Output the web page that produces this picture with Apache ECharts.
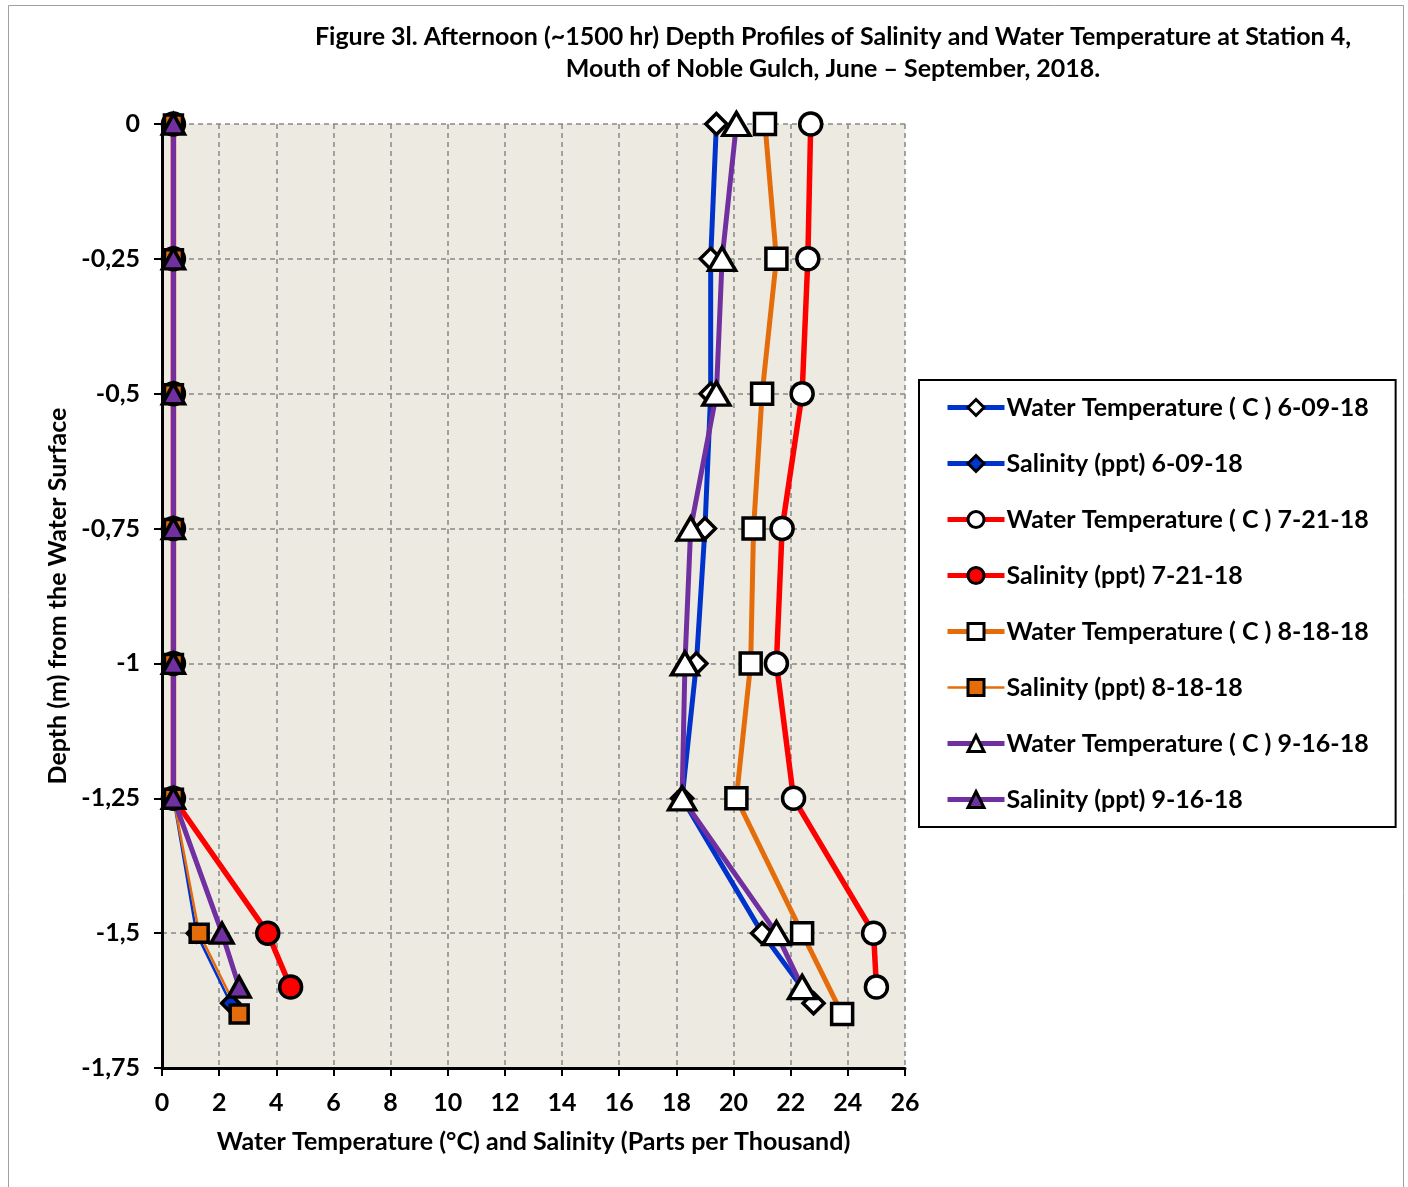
<!DOCTYPE html>
<html><head><meta charset="utf-8">
<script src="https://cdn.jsdelivr.net/npm/echarts@6/dist/echarts.min.js"></script>
<style>html,body{margin:0;padding:0;background:#fff}#c{width:1408px;height:1187px}</style>
</head><body><div id="c"></div>
<script>
// Depths (m) of the profile points, per sampling date
const depths0609 = [0, -0.25, -0.5, -0.75, -1, -1.25, -1.5, -1.63];
const depths0721 = [0, -0.25, -0.5, -0.75, -1, -1.25, -1.5, -1.6];
const depths0818 = [0, -0.25, -0.5, -0.75, -1, -1.25, -1.5, -1.65];
const depths0916 = [0, -0.25, -0.5, -0.75, -1, -1.25, -1.5, -1.6];
// Water temperature (C)
const temp0609 = [19.4, 19.2, 19.2, 19.0, 18.7, 18.2, 21.0, 22.8];
const temp0721 = [22.7, 22.6, 22.4, 21.7, 21.5, 22.1, 24.9, 25.0];
const temp0818 = [21.1, 21.5, 21.0, 20.7, 20.6, 20.1, 22.4, 23.8];
const temp0916 = [20.1, 19.6, 19.4, 18.5, 18.3, 18.2, 21.5, 22.4];
// Salinity (ppt)
const sal0609 = [0.4, 0.4, 0.4, 0.4, 0.4, 0.4, 1.2, 2.4];
const sal0721 = [0.4, 0.4, 0.4, 0.4, 0.4, 0.4, 3.7, 4.5];
const sal0818 = [0.4, 0.4, 0.4, 0.4, 0.4, 0.4, 1.3, 2.7];
const sal0916 = [0.4, 0.4, 0.4, 0.4, 0.4, 0.4, 2.1, 2.7];
const seriesNames = [
  'Water Temperature ( C ) 6-09-18', 'Salinity (ppt) 6-09-18',
  'Water Temperature ( C ) 7-21-18', 'Salinity (ppt) 7-21-18',
  'Water Temperature ( C ) 8-18-18', 'Salinity (ppt) 8-18-18',
  'Water Temperature ( C ) 9-16-18', 'Salinity (ppt) 9-16-18'
];

const pairs = (xs, ys) => xs.map((v, i) => [v, ys[i]]);
const FONT = 'Lato';
const FS = 25;
const C_BLUE = '#0033CC', C_RED = '#FF0000', C_ORANGE = '#E46C0A', C_PURPLE = '#7030A0';

function mk(name, data, color, lw, symbol, size, fill) {
  return {
    name, type: 'line', data, symbol, symbolSize: size,
    lineStyle: { color, width: lw },
    itemStyle: { color: fill, borderColor: '#000', borderWidth: 3.5 },
    emphasis: { disabled: true },
    animation: false, z: 2
  };
}
const legendWidths = [5, 5, 5, 5, 5, 2.5, 5, 5];

const chart = echarts.init(document.getElementById('c'), null, { renderer: 'canvas' });
chart.setOption({
  backgroundColor: '#fff',
  animation: false,
  title: {
    text: 'Figure 3l. Afternoon (~1500 hr) Depth Profiles of Salinity and Water Temperature at Station 4,\nMouth of Noble Gulch, June \u2013 September, 2018.',
    left: 828, top: 16, textAlign: 'center',
    textStyle: { fontFamily: FONT, fontWeight: 'bold', fontSize: FS, lineHeight: 32, color: '#000' }
  },
  graphic: [{
    type: 'rect', shape: { x: 8.5, y: 5.5, width: 1395, height: 1190 },
    style: { fill: 'none', stroke: '#a0a0a0', lineWidth: 1 }, z: -10
  }],
  legend: {
    orient: 'vertical', left: 919, top: 380,
    padding: [15, 27, 15, 26],
    borderColor: '#000', borderWidth: 2, backgroundColor: '#fff',
    itemWidth: 57, itemHeight: 20, itemGap: 31,
    itemStyle: { borderColor: '#000', borderWidth: 3 },
    textStyle: { fontFamily: FONT, fontWeight: 'bold', fontSize: FS, lineHeight: 25, color: '#000', padding: [0, 0, 0, -3] },
    data: seriesNames.map((n, i) => ({ name: n, lineStyle: { width: legendWidths[i] } }))
  },
  grid: { left: 162, right: 503, top: 124, bottom: 119, show: true, backgroundColor: '#EDEBE1', borderWidth: 0 },
  xAxis: {
    type: 'value', min: 0, max: 26, interval: 2,
    name: 'Water Temperature (\u00b0C) and Salinity (Parts per Thousand)',
    nameLocation: 'middle', nameGap: 61,
    nameTextStyle: { fontFamily: FONT, fontWeight: 'bold', fontSize: FS, color: '#000' },
    axisLine: { show: true, onZero: false, lineStyle: { color: '#000', width: 3 } },
    axisTick: { show: true, inside: false, length: 8, lineStyle: { color: '#000', width: 2 } },
    axisLabel: { fontFamily: FONT, fontWeight: 'bold', fontSize: FS, color: '#000', margin: 22 },
    splitLine: { show: true, lineStyle: { color: '#888', width: 1.5, type: [5, 4] } }
  },
  yAxis: {
    type: 'value', min: -1.75, max: 0, interval: 0.25,
    name: 'Depth (m) from the Water Surface',
    nameLocation: 'middle', nameGap: 91, nameRotate: 90,
    nameTextStyle: { fontFamily: FONT, fontWeight: 'bold', fontSize: FS, color: '#000' },
    axisLine: { show: true, onZero: false, lineStyle: { color: '#000', width: 3 } },
    axisTick: { show: true, inside: false, length: 8, lineStyle: { color: '#000', width: 2 } },
    axisLabel: { fontFamily: FONT, fontWeight: 'bold', fontSize: FS, color: '#000', margin: 22,
      formatter: v => String(Math.round(v * 100) / 100).replace('.', ',') },
    splitLine: { show: true, lineStyle: { color: '#888', width: 1.5, type: [5, 4] } }
  },
  series: [
    mk(seriesNames[0], pairs(temp0609, depths0609), C_BLUE, 5, 'diamond', [21, 21], '#fff'),
    mk(seriesNames[1], pairs(sal0609, depths0609), C_BLUE, 2.5, 'diamond', [18, 18], C_BLUE),
    mk(seriesNames[2], pairs(temp0721, depths0721), C_RED, 5.5, 'circle', 22, '#fff'),
    mk(seriesNames[3], pairs(sal0721, depths0721), C_RED, 5.5, 'circle', 22, C_RED),
    mk(seriesNames[4], pairs(temp0818, depths0818), C_ORANGE, 5, 'rect', 21, '#fff'),
    mk(seriesNames[5], pairs(sal0818, depths0818), C_ORANGE, 2.5, 'rect', 18, C_ORANGE),
    mk(seriesNames[6], pairs(temp0916, depths0916), C_PURPLE, 5, 'triangle', [27, 23], '#fff'),
    mk(seriesNames[7], pairs(sal0916, depths0916), C_PURPLE, 5, 'triangle', [22, 20], C_PURPLE)
  ]
});
</script></body></html>
